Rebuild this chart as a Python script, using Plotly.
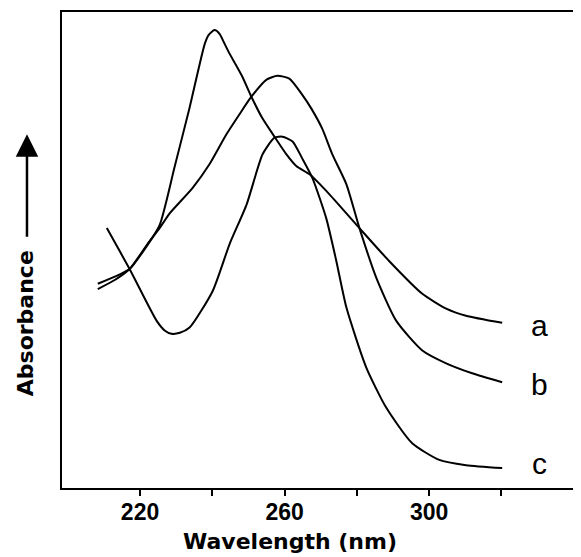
import plotly.graph_objects as go

# wavelength (nm) and absorbance (arbitrary units)
wl_a = [208.3, 213.0, 217.1, 221.3, 225.4, 229.6, 233.7, 237.9, 239.0, 240.6,
        242.0, 243.4, 244.8, 248.3, 250.8, 253.9, 257.2, 260.5, 263.3, 266.9,
        272.4, 280.7, 288.9, 298.1, 304.7, 310.2, 320.2]
abs_a = [0.429, 0.444, 0.460, 0.502, 0.552, 0.676, 0.799, 0.933, 0.952, 0.962,
         0.954, 0.933, 0.912, 0.864, 0.822, 0.776, 0.738, 0.701, 0.676, 0.659,
         0.617, 0.546, 0.477, 0.408, 0.377, 0.362, 0.347]

wl_b = [208.3, 213.0, 217.1, 222.1, 225.4, 228.2, 234.5, 239.2, 243.9, 247.5,
        250.8, 255.0, 258.0, 261.3, 264.9, 267.4, 270.4, 273.2, 277.1, 280.7,
        285.4, 290.9, 298.1, 304.7, 311.9, 320.2]
abs_b = [0.418, 0.437, 0.460, 0.513, 0.546, 0.577, 0.630, 0.680, 0.743, 0.785,
         0.822, 0.858, 0.866, 0.860, 0.826, 0.797, 0.755, 0.701, 0.638, 0.546,
         0.441, 0.351, 0.289, 0.262, 0.241, 0.222]

wl_c = [210.8, 217.1, 224.6, 226.8, 228.7, 231.0, 233.7, 240.1, 244.8, 249.5,
        253.9, 257.2, 259.4, 262.2, 264.9, 267.7, 271.5, 274.3, 277.1, 282.6,
        288.1, 295.3, 302.8, 310.2, 320.2]
abs_c = [0.546, 0.460, 0.351, 0.331, 0.324, 0.326, 0.337, 0.414, 0.513, 0.596,
         0.701, 0.736, 0.738, 0.728, 0.692, 0.651, 0.567, 0.477, 0.379, 0.253,
         0.169, 0.094, 0.059, 0.048, 0.042]

curve_labels = ["a", "b", "c"]
label_y = [0.341, 0.218, 0.052]
label_x = 330.4

tick_vals = [220, 240, 260, 280, 300, 320]
tick_text = ["220", "", "260", "", "300", ""]

fig = go.Figure()
for wl, ab in [(wl_a, abs_a), (wl_b, abs_b), (wl_c, abs_c)]:
    fig.add_trace(go.Scatter(
        x=wl, y=ab, mode="lines",
        line=dict(color="black", width=2, shape="spline", smoothing=0.6),
        showlegend=False, hoverinfo="skip",
    ))

for lab, yy in zip(curve_labels, label_y):
    fig.add_annotation(
        x=label_x, y=yy, text=lab, showarrow=False,
        font=dict(family="Liberation Sans", size=30, color="black"),
        xanchor="center", yanchor="middle",
    )

# y axis title with arrow pointing up
fig.add_annotation(
    x=-0.072, y=0.346, xref="paper", yref="paper", text="Absorbance",
    textangle=-90, showarrow=False,
    font=dict(family="DejaVu Sans", size=22, color="black", weight="bold"),
    xanchor="center", yanchor="middle",
)
fig.add_annotation(
    x=-0.068, y=0.743, xref="paper", yref="paper", text="",
    showarrow=True, ax=0, ay=104, axref="pixel", ayref="pixel",
    arrowhead=2, arrowsize=1.8, arrowwidth=2.5, arrowcolor="black",
)
fig.add_annotation(
    x=0.442, y=-0.112, xref="paper", yref="paper", text="Wavelength (nm)",
    showarrow=False,
    font=dict(family="DejaVu Sans", size=22, color="black", weight="bold"),
    xanchor="center", yanchor="middle",
)

fig.update_xaxes(
    range=[198.4, 340.9], tickvals=tick_vals, ticktext=tick_text,
    ticks="outside", ticklen=6, tickwidth=2, tickcolor="black",
    ticklabelstandoff=-4,
    tickfont=dict(family="Liberation Sans", size=23, color="black", weight="bold"),
    showline=True, linecolor="black", linewidth=2, mirror=True,
    showgrid=False, zeroline=False,
)
fig.update_yaxes(
    range=[0, 1], showticklabels=False, ticks="",
    showline=True, linecolor="black", linewidth=2, mirror=True,
    showgrid=False, zeroline=False,
)
# page body adds an 8px margin, so the figure is drawn 8px smaller/shifted
fig.update_layout(
    width=573, height=549,
    margin=dict(l=54, r=3, t=2, b=69),
    paper_bgcolor="white", plot_bgcolor="white",
)

fig.write_html("out.html")
